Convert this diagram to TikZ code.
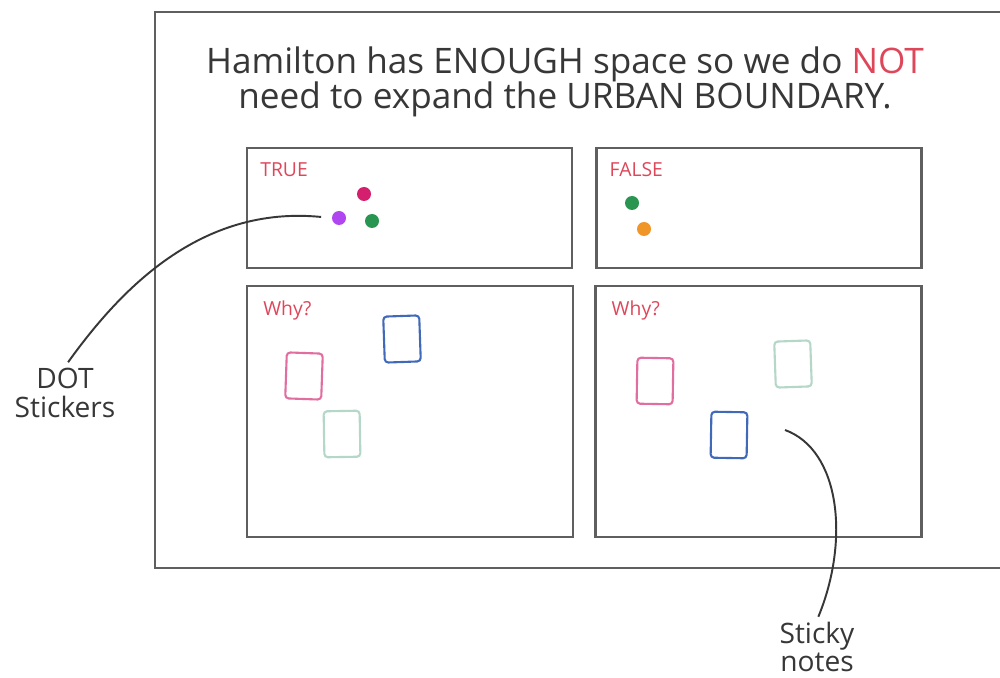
\documentclass[tikz,border=0pt]{standalone}
\usepackage{fontspec}
\setmainfont{Open Sans}
\usetikzlibrary{positioning}
\definecolor{framegray}{RGB}{95,95,95}
\definecolor{inkgray}{RGB}{55,55,55}
\definecolor{penred}{RGB}{222,70,90}
\definecolor{dotmagenta}{RGB}{212,30,110}
\definecolor{dotpurple}{RGB}{176,70,240}
\definecolor{dotgreen}{RGB}{40,150,80}
\definecolor{dotorange}{RGB}{240,150,40}
\definecolor{notepink}{RGB}{226,110,160}
\definecolor{noteblue}{RGB}{65,105,185}
\definecolor{notemint}{RGB}{180,215,200}

\begin{document}
\begin{tikzpicture}[x=0.02cm, y=-0.02cm,
  panel/.style={draw=framegray, line width=1.4pt, inner sep=0},
  toppanel/.style={panel, minimum width=6.5cm, minimum height=2.4cm},
  whypanel/.style={panel, minimum width=6.52cm, minimum height=5.02cm},
  tag/.style={font=\fontsize{11}{12}\selectfont, text=penred, inner sep=0, anchor=north west},
  dot/.style={circle, inner sep=0, minimum size=0.28cm},
  note/.style={draw=#1, line width=1.2pt, rounded corners=2pt, minimum width=0.72cm, minimum height=0.92cm, inner sep=0},
  callout/.style={font=\fontsize{16}{16}\selectfont, text=inkgray, align=center, inner sep=1pt},
  pointer/.style={draw=inkgray, line width=1.1pt}
]
\useasboundingbox (0,0) rectangle (1000,678);
\fill[white] (0,0) rectangle (1000,678);

% outer board
\draw[framegray, line width=1.4pt] (155,12) rectangle (1010,568);

% question
\node[font=\fontsize{20}{20}\selectfont, text=inkgray, align=center] (question) at (565,82)
  {Hamilton has ENOUGH space so we do \textcolor{penred}{NOT}\\
   need to expand the URBAN BOUNDARY.};

% voting panels
\node[toppanel, anchor=north west] (truebox) at (246,147) {};
\node[toppanel, right=0.44cm of truebox] (falsebox) {};
\node[whypanel, anchor=north west] (whyleft) at (246,285) {};
\node[whypanel, right=0.4cm of whyleft] (whyright) {};

\node[tag] (truetag) at ([xshift=0.28cm, yshift=-0.3cm]truebox.north west) {TRUE};
\node[tag] (falsetag) at ([xshift=0.28cm, yshift=-0.3cm]falsebox.north west) {FALSE};
\node[tag] (whytagl) at ([xshift=0.34cm, yshift=-0.3cm]whyleft.north west) {Why?};
\node[tag] (whytagr) at ([xshift=0.34cm, yshift=-0.3cm]whyright.north west) {Why?};

% dot stickers
\node[dot, fill=dotmagenta] (tdot1) at (364,194) {};
\node[dot, fill=dotpurple] (tdot2) at (339,218) {};
\node[dot, fill=dotgreen] (tdot3) at (372,221) {};
\node[dot, fill=dotgreen] (fdot1) at (632,203) {};
\node[dot, fill=dotorange] (fdot2) at (644,229) {};

% sticky notes
\node[note=noteblue, rotate=2] (lnote1) at (402,339) {};
\node[note=notepink, rotate=-2] (lnote2) at (304,376) {};
\node[note=notemint, rotate=1] (lnote3) at (342,434) {};
\node[note=notepink, rotate=-1] (rnote1) at (655,381) {};
\node[note=notemint, rotate=2] (rnote2) at (793,364) {};
\node[note=noteblue, rotate=-1] (rnote3) at (729,435) {};

% callouts
\node[callout] (dotlbl) at (65,393) {DOT\\Stickers};
\node[callout] (stickylbl) at (817,647) {Sticky\\notes};
\coordinate (noteend) at (785,430);

\draw[pointer, shorten <=3pt, shorten >=6pt] (dotlbl.north) .. controls (120,290) and (200,205) .. (tdot2.west);
\draw[pointer, shorten <=2pt] (stickylbl.north) .. controls (850,540) and (840,450) .. (noteend);
\end{tikzpicture}
\end{document}
